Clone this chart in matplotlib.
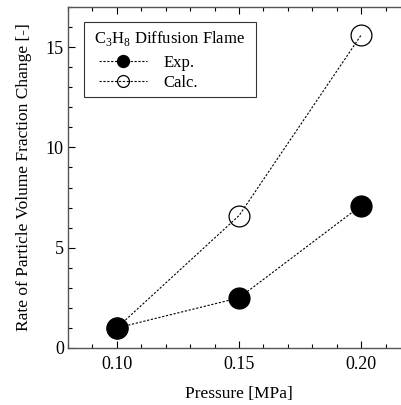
import matplotlib
matplotlib.use("Agg")
import matplotlib.pyplot as plt
from matplotlib.ticker import MultipleLocator
from matplotlib.offsetbox import HPacker, VPacker, DrawingArea

plt.rcParams['font.family'] = ['Liberation Serif', 'DejaVu Serif']
plt.rcParams['mathtext.fontset'] = 'custom'
plt.rcParams['mathtext.rm'] = 'Liberation Serif'

pressure = [0.10, 0.15, 0.20]
exp_vals = [1.0, 2.5, 7.1]
calc_vals = [1.0, 6.6, 15.6]
x_ticks = [0.10, 0.15, 0.20]
x_tick_labels = ['0.10', '0.15', '0.20']
y_ticks = [0, 5, 10, 15]
y_tick_labels = ['0', '5', '10', '15']

fig = plt.figure(figsize=(4.02, 4.05), dpi=100)
ax = fig.add_axes([68/402, 1-348/405, (410-68)/402, (348-7)/405])

spine_col = '#555555'
ls = (0, (2.0, 1.5))
ax.plot(pressure, exp_vals, linestyle=ls, color='black', linewidth=0.8,
        marker='o', markersize=15, markerfacecolor='black', markeredgecolor='black',
        label='Exp.')
ax.plot(pressure, calc_vals, linestyle=ls, color='black', linewidth=0.8,
        marker='o', markersize=15, markerfacecolor='none', markeredgecolor='black',
        markeredgewidth=0.9, label='Calc.')

ax.set_xlim(0.08, 0.22)
ax.set_ylim(0, 17)
ax.xaxis.set_minor_locator(MultipleLocator(0.01))
ax.yaxis.set_minor_locator(MultipleLocator(1))
ax.set_xticks(x_ticks)
ax.set_xticklabels(x_tick_labels)
ax.set_yticks(y_ticks)
ax.set_yticklabels(y_tick_labels)

ax.tick_params(which='both', direction='in', top=True, right=True, colors='black',
               labelsize=13, width=0.8)
ax.tick_params(which='major', length=5, pad=3)
ax.tick_params(which='minor', length=3)
ax.tick_params(axis='x', which='major', pad=6)
for s in ax.spines.values():
    s.set_color(spine_col)
    s.set_linewidth(1.0)

ax.set_xlabel('Pressure [MPa]', fontsize=12.5, labelpad=9)
ax.set_ylabel('Rate of Particle Volume Fraction Change [-]', fontsize=12.5, labelpad=10)

leg = ax.legend(loc='upper left', bbox_to_anchor=(16/342, 1-15/341),
                title='C$_3$H$_8$ Diffusion Flame', title_fontsize=12, fontsize=12,
                frameon=True, fancybox=False, edgecolor='black', markerscale=0.57,
                handlelength=2.9, handletextpad=0.96, labelspacing=0.25,
                borderpad=0.4, borderaxespad=0)
leg.get_frame().set_linewidth(0.8)

title_box = leg._legend_title_box
handle_box = leg._legend_handle_box
new_title = HPacker(pad=0, sep=0, align='center',
                    children=[DrawingArea(2.2, 1), title_box, DrawingArea(3.5, 1)])
new_handles = VPacker(pad=0, sep=0, align='left',
                      children=[DrawingArea(1, 2.0),
                                HPacker(pad=0, sep=0, align='center',
                                        children=[DrawingArea(6.0, 1), handle_box])])
leg._legend_box._children = [new_title, new_handles]
leg._legend_box.align = 'left'

fig.savefig('out.png', dpi=100)
